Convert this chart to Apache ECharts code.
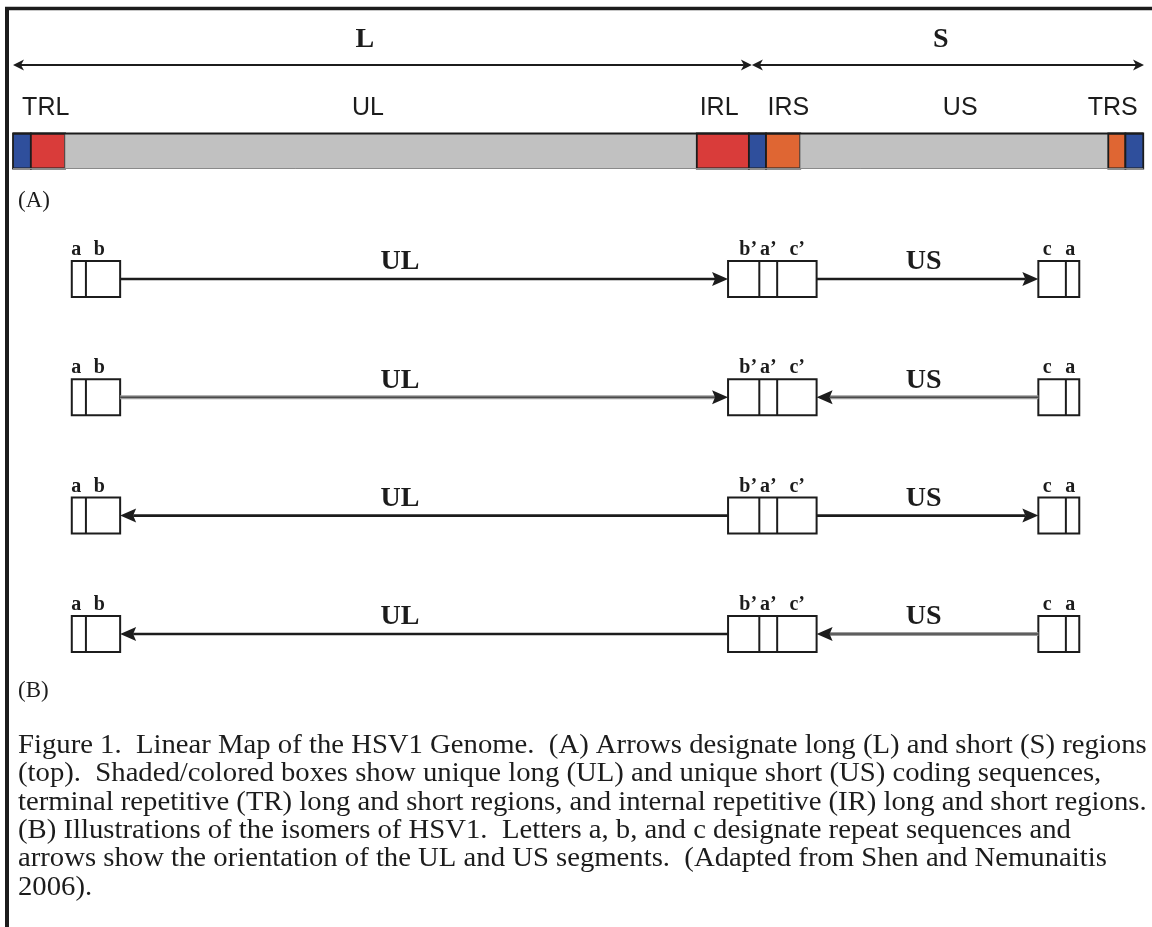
<!DOCTYPE html>
<html><head><meta charset="utf-8">
<script src="https://cdn.jsdelivr.net/npm/echarts@6/dist/echarts.min.js"></script>
<style>html,body{margin:0;padding:0;background:#fff}#c{width:1152px;height:927px}</style>
</head><body><div id="c"></div>
<script>
// ---------- Panel A: linear genome map (positions in kb, schematic) ----------
const mapRows = ['span', 'name', 'map'];
const segmentNames  = ['a', 'b', 'UL', 'b’', 'a’', 'c’', 'US', 'c', 'a'];
const segmentStarts = [0, 2.4, 7.0, 91.9, 98.9, 101.2, 105.8, 147.2, 149.5];
const segmentEnds   = [2.4, 7.0, 91.9, 98.9, 101.2, 105.8, 147.2, 149.5, 151.9];
const regionLabels   = ['TRL', 'UL', 'IRL', 'IRS', 'US', 'TRS'];
const regionLabelPos = [4.4, 47.7, 94.9, 104.2, 127.3, 147.8];
const spanNames    = ['L', 'S'];
const spanStarts   = [0, 99.3];
const spanEnds     = [99.3, 152];
const spanLabelPos = [47.3, 124.7];

// ---------- Panel B: the four isomers ----------
const isomers     = ['P', 'IS', 'IL', 'ILS'];
const ulDirection = [1, 1, -1, -1];
const usDirection = [1, -1, 1, -1];
const leftBoxEdges  = [7.9, 9.8, 14.4];
const midBoxEdges   = [96.1, 100.3, 102.7, 108.0];
const rightBoxEdges = [137.8, 141.5, 143.3];
const leftBoxLetters  = ['a', 'b'];
const leftLetterPos   = [8.5, 11.6];
const midBoxLetters   = ['b’', 'a’', 'c’'];
const midLetterPos    = [98.8, 101.5, 105.4];
const rightBoxLetters = ['c', 'a'];
const rightLetterPos  = [139.0, 142.1];
const segmentLabels   = ['UL', 'US'];
const segmentLabelPos = [52.0, 122.4];

const caption = [
  'Figure 1.  Linear Map of the HSV1 Genome.  (A) Arrows designate long (L) and short (S) regions',
  '(top).  Shaded/colored boxes show unique long (UL) and unique short (US) coding sequences,',
  'terminal repetitive (TR) long and short regions, and internal repetitive (IR) long and short regions.',
  '(B) Illustrations of the isomers of HSV1.  Letters a, b, and c designate repeat sequences and',
  'arrows show the orientation of the UL and US segments.  (Adapted from Shen and Nemunaitis',
  '2006).'
];

// ---------- styles ----------
const INK = '#1c1c1c';
const SEG_COLOR = { 'a': '#2f4f9c', 'a’': '#2f4f9c', 'b': '#d93c3a', 'b’': '#d93c3a',
  'c': '#df6633', 'c’': '#df6633', 'UL': '#c1c1c1', 'US': '#c1c1c1' };
const ROW_TONE = { UL: [0, 1, 0, 0], US: [0, 1, 0, 1] }; // 1 = greyish line
const SERIF = '"Liberation Serif", "Times New Roman", serif';
const SANS = '"Liberation Sans", Arial, sans-serif';

function arrowRenderer(o) {
  return function (params, api) {
    const x1 = api.value(0), x2 = api.value(1), row = api.value(2), tone = api.value(3);
    const p1 = api.coord([x1, row]), p2 = api.coord([x2, row]);
    const y = p2[1];
    const dir = p2[0] > p1[0] ? 1 : -1;
    const head = (tipX, d) => ({
      type: 'polygon',
      shape: { points: [[tipX, y], [tipX - d * o.len, y - o.half], [tipX - d * (o.len - o.notch), y], [tipX - d * o.len, y + o.half]] },
      style: { fill: INK }
    });
    const startX = o.double ? p1[0] + dir * (o.len - o.notch) : p1[0];
    const endX = p2[0] - dir * (o.len - o.notch);
    const children = [];
    if (tone === 1) {
      children.push({ type: 'line', shape: { x1: startX, y1: y, x2: endX, y2: y }, style: { stroke: '#9c9c9c', lineWidth: o.width + 1.5 } });
      children.push({ type: 'line', shape: { x1: startX, y1: y, x2: endX, y2: y }, style: { stroke: '#4a4a4a', lineWidth: 1.4 } });
    } else {
      children.push({ type: 'line', shape: { x1: startX, y1: y, x2: endX, y2: y }, style: { stroke: INK, lineWidth: o.width } });
    }
    children.push(head(p2[0], dir));
    if (o.double) children.push(head(p1[0], -dir));
    return { type: 'group', children };
  };
}

function textRenderer(list, font, dy) {
  return function (params, api) {
    const p = api.coord([api.value(0), api.value(1)]);
    return {
      type: 'text',
      style: { text: list[params.dataIndex].name, x: p[0], y: p[1] + dy, textAlign: 'center',
        textVerticalAlign: 'middle', font: font, fill: INK }
    };
  };
}

// ---------- build series data ----------
const segData = segmentNames.map((n, i) => ({ name: n, value: [segmentStarts[i], segmentEnds[i], 2] }));
const regionData = regionLabels.map((n, i) => ({ name: n, value: [regionLabelPos[i], 1] }));
const spanData = spanNames.map((n, i) => ({ name: n, value: [spanStarts[i], spanEnds[i], 0, 0] }));
const spanLabelData = spanNames.map((n, i) => ({ name: n, value: [spanLabelPos[i], 0] }));

const boxSets = [leftBoxEdges, midBoxEdges, rightBoxEdges];
const boxData = [];
isomers.forEach((iso, r) => boxSets.forEach((edges, b) => boxData.push({ name: iso, value: [edges[0], edges[edges.length - 1], r, b] })));

const arrowData = [];
isomers.forEach((iso, r) => {
  const ulFrom = ulDirection[r] > 0 ? leftBoxEdges[2] : midBoxEdges[0];
  const ulTo = ulDirection[r] > 0 ? midBoxEdges[0] : leftBoxEdges[2];
  const usFrom = usDirection[r] > 0 ? midBoxEdges[3] : rightBoxEdges[0];
  const usTo = usDirection[r] > 0 ? rightBoxEdges[0] : midBoxEdges[3];
  arrowData.push({ name: iso + ' UL', value: [ulFrom, ulTo, r, ROW_TONE.UL[r]] });
  arrowData.push({ name: iso + ' US', value: [usFrom, usTo, r, ROW_TONE.US[r]] });
});

const letterData = [];
const segLabelData = [];
isomers.forEach((iso, r) => {
  leftBoxLetters.forEach((t, i) => letterData.push({ name: t, value: [leftLetterPos[i], r] }));
  midBoxLetters.forEach((t, i) => letterData.push({ name: t, value: [midLetterPos[i], r] }));
  rightBoxLetters.forEach((t, i) => letterData.push({ name: t, value: [rightLetterPos[i], r] }));
  segmentLabels.forEach((t, i) => segLabelData.push({ name: t, value: [segmentLabelPos[i], r] }));
});

const chart = echarts.init(document.getElementById('c'), null, { renderer: 'canvas' });
chart.setOption({
  backgroundColor: '#fff',
  animation: false,
  grid: [
    { left: 13, right: 8, top: 43.5, height: 129 },
    { left: 13, right: 8, top: 219.8, height: 473.3 }
  ],
  xAxis: [
    { type: 'value', gridIndex: 0, min: 0, max: 152, show: false },
    { type: 'value', gridIndex: 1, min: 0, max: 152, show: false }
  ],
  yAxis: [
    { type: 'category', gridIndex: 0, data: mapRows, inverse: true, show: false },
    { type: 'category', gridIndex: 1, data: isomers, inverse: true, show: false }
  ],
  series: [
    { // genome bar
      type: 'custom', xAxisIndex: 0, yAxisIndex: 0, data: segData, encode: { x: [0, 1], y: 2 },
      renderItem: function (params, api) {
        const a = api.coord([api.value(0), 2]), b = api.coord([api.value(1), 2]);
        const h = 35;
        const name = segData[params.dataIndex].name;
        const grey = name === 'UL' || name === 'US';
        return { type: 'rect', shape: { x: a[0], y: a[1] - h / 2, width: b[0] - a[0], height: h },
          style: { fill: SEG_COLOR[name], stroke: grey ? '#9a9a9a' : INK, lineWidth: grey ? 0.8 : 1.8 } };
      }
    },
    { // bar outline top/bottom edges
      type: 'custom', xAxisIndex: 0, yAxisIndex: 0, data: [{ name: 'genome', value: [segmentStarts[0], segmentEnds[segmentEnds.length - 1], 2] }],
      renderItem: function (params, api) {
        const a = api.coord([api.value(0), 2]), b = api.coord([api.value(1), 2]);
        const h = 35;
        return { type: 'group', children: [
          { type: 'line', shape: { x1: a[0], y1: a[1] - h / 2, x2: b[0], y2: a[1] - h / 2 }, style: { stroke: INK, lineWidth: 1.8 } },
          { type: 'line', shape: { x1: a[0], y1: a[1] + h / 2, x2: b[0], y2: a[1] + h / 2 }, style: { stroke: '#8a8a8a', lineWidth: 1 } }
        ] };
      }
    },
    { type: 'custom', xAxisIndex: 0, yAxisIndex: 0, data: regionData, renderItem: textRenderer(regionData, '25px ' + SANS, 0) },
    { type: 'custom', xAxisIndex: 0, yAxisIndex: 0, data: spanData, renderItem: arrowRenderer({ len: 11, half: 5.5, notch: 3, width: 2, double: true }) },
    { type: 'custom', xAxisIndex: 0, yAxisIndex: 0, data: spanLabelData, renderItem: textRenderer(spanLabelData, 'bold 28px ' + SERIF, -25) },
    { // isomer boxes
      type: 'custom', xAxisIndex: 1, yAxisIndex: 1, data: boxData,
      renderItem: function (params, api) {
        const r = api.value(2), bi = api.value(3);
        const edges = boxSets[bi];
        const a = api.coord([edges[0], r]), b = api.coord([edges[edges.length - 1], r]);
        const h = 36;
        const children = [{ type: 'rect', shape: { x: a[0], y: a[1] - h / 2, width: b[0] - a[0], height: h }, style: { fill: '#fff', stroke: INK, lineWidth: 2 } }];
        for (let k = 1; k < edges.length - 1; k++) {
          const d = api.coord([edges[k], r]);
          children.push({ type: 'line', shape: { x1: d[0], y1: a[1] - h / 2, x2: d[0], y2: a[1] + h / 2 }, style: { stroke: INK, lineWidth: 2 } });
        }
        return { type: 'group', children };
      }
    },
    { type: 'custom', xAxisIndex: 1, yAxisIndex: 1, data: arrowData, renderItem: arrowRenderer({ len: 16, half: 7, notch: 3, width: 2.6, double: false }) },
    { type: 'custom', xAxisIndex: 1, yAxisIndex: 1, data: letterData, renderItem: textRenderer(letterData, 'bold 20px ' + SERIF, -29) },
    { type: 'custom', xAxisIndex: 1, yAxisIndex: 1, data: segLabelData, renderItem: textRenderer(segLabelData, 'bold 28px ' + SERIF, -17) }
  ],
  graphic: [
    { type: 'line', shape: { x1: 5, y1: 8.5, x2: 1152, y2: 8.5 }, style: { stroke: INK, lineWidth: 3.5 } },
    { type: 'line', shape: { x1: 7, y1: 7, x2: 7, y2: 927 }, style: { stroke: INK, lineWidth: 4 } },
    { type: 'text', left: 18, top: 189, style: { text: '(A)', font: '23px ' + SERIF, fill: INK } },
    { type: 'text', left: 18, top: 679, style: { text: '(B)', font: '23px ' + SERIF, fill: INK } },
    { type: 'text', x: 18, y: 731.5, scaleX: 1.063, style: { text: caption.join('\n'), font: '27px ' + SERIF, lineHeight: 28.4, fill: INK } }
  ]
});
</script>
</body></html>
